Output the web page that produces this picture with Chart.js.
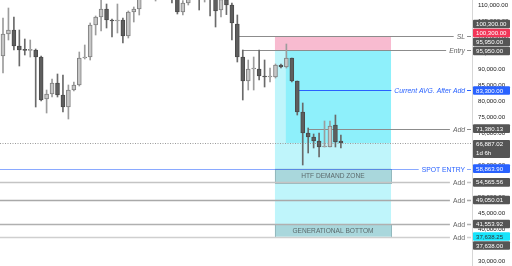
<!DOCTYPE html>
<html>
<head>
<meta charset="utf-8">
<script src="https://cdn.jsdelivr.net/npm/chart.js@4.4.1/dist/chart.umd.min.js"></script>
<style>
html,body{margin:0;padding:0;background:#fff;}
#wrap{width:512px;height:266px;position:relative;}
</style>
</head>
<body>
<div id="wrap"><canvas id="chart"></canvas></div>
<script>
// daily candles
const opens=[94062,100937,102187,97187,95937,95800,95937,93750,80625,82187,85625,81875,78125,83437,85000,93437,93750,103750,106250,108750,105312,105000,105312,100312,107812,108750,112200,114300,113000,114500,116800,115000,112000,107812,110625,112500,115000,113000,114500,112500,108437,111700,110000,104062,93750,86250,90000,90000,87812,87500,87500,91250,90625,93437,86250,76562,70000,68750,67500,65625,65625,72500,67500];
const highs=[105937,109062,106250,102187,99375,99062,96250,94062,83437,86875,88437,88125,85000,85937,95312,97500,104375,106562,111500,110312,105625,110312,105937,108125,109375,114000,115500,116000,115000,117500,119000,117000,113200,111400,113500,116000,116500,115500,117000,113000,112800,112300,110625,106875,95937,92812,93750,95937,92812,90312,91562,91562,97812,93437,86250,79375,71562,69687,70000,73750,73750,75625,69375];
const lows=[88750,99062,95937,90937,94375,93750,78125,80000,76250,81250,81250,76562,74375,83125,84687,93125,92812,100625,101875,102812,100000,101250,98125,99687,104687,106875,111800,112500,111250,113200,114200,110625,107187,106875,110000,111900,108437,110937,106562,103125,106250,107000,99062,92187,80312,83437,83437,86562,84375,85937,87187,90312,90312,85937,75625,60000,63750,65312,62500,65625,65625,65625,65312];
const closes=[100937,102187,97187,95937,95800,95937,93750,80312,82187,85625,81875,78125,83437,85000,93437,93750,103750,106250,108750,105312,105000,105312,100312,107812,108750,112200,114300,113000,114500,116800,115000,112000,107812,110625,112500,115000,113000,114500,112500,108125,111700,110000,104375,93750,86250,90000,90312,87812,87500,87812,91250,90625,93437,86250,76562,70000,68750,67500,65625,65800,72187,67187,66887.02];

// price axis
const yTickValues=[30000,35000,40000,45000,50000,55000,60000,65000,70000,75000,80000,85000,90000,95000,100000,105000,110000];
const yMin=28437.5, yMax=111562.5;

// drawn levels
const levelPrices=[100300,95950,83300,71380.13,58863.90,54565.56,49050.01,41553.92,37638.25];
const levelNames=["SL","Entry","Current AVG. After Add","Add","SPOT ENTRY","Add","Add","Add","Add"];
const lastPrice=66887.02;
const lastCountdown="1d 6h";

// zones
const zoneNames=["HTF DEMAND ZONE","GENERATIONAL BOTTOM"];
const zoneTops=[58863.90,41553.92];
const zoneBottoms=[54565.56,37638.25];

// price tags on the axis
const tagPrices=[100300,100300,95950,95950,83300,71380.13,58863.90,54565.56,49050.01,41553.92,37638.25,37638];

const fmt=v=>v.toLocaleString("en-US",{minimumFractionDigits:2,maximumFractionDigits:2});

const up=closes.map((c,i)=>c>=opens[i]);

const lineStyle=[
{from:42.8,color:"#8c8c8c",text:"#666",italic:true,w:1},
{from:44,color:"#8c8c8c",text:"#666",italic:true,w:1},
{from:54.1,color:"#2962ff",text:"#2962ff",italic:true,w:1},
{from:56,color:"#8c8c8c",text:"#666",italic:true,w:1},
{from:-1,color:"rgba(41,98,255,0.55)",text:"#2962ff",italic:false,w:1},
{from:-1,color:"#c4c4c4",text:"#666",italic:false,w:1.5},
{from:-1,color:"#a9a9a9",text:"#666",italic:false,w:1.5},
{from:-1,color:"#b0b0b0",text:"#666",italic:false,w:1.5},
{from:-1,color:"#cfcfcf",text:"#666",italic:false,w:1.5}
];
const tagStyle=[
{bg:"#555555",fg:"#fff",dy:-12},
{bg:"#f23658",fg:"#fff",dy:-3},
{bg:"#555555",fg:"#fff",dy:-8},
{bg:"#555555",fg:"#fff",dy:1},
{bg:"#2962ff",fg:"#fff",dy:0},
{bg:"#555555",fg:"#fff",dy:0},
{bg:"#2962ff",fg:"#fff",dy:0},
{bg:"#555555",fg:"#fff",dy:0},
{bg:"#555555",fg:"#fff",dy:0},
{bg:"#555555",fg:"#fff",dy:0},
{bg:"#18e4fb",fg:"#333",dy:0},
{bg:"#555555",fg:"#fff",dy:9}
];

const overlay={
id:"overlay",
beforeDatasetsDraw(chart){
const ctx=chart.ctx, x=chart.scales.x, y=chart.scales.y, a=chart.chartArea;
const bx0=x.getPixelForValue(49.9), bx1=x.getPixelForValue(71.2), bxd=x.getPixelForValue(51.9);
ctx.save();
// position tool
ctx.fillStyle="#bff5fb";
ctx.fillRect(bx0,y.getPixelForValue(levelPrices[1]),bx1-bx0,y.getPixelForValue(levelPrices[8])-y.getPixelForValue(levelPrices[1]));
ctx.fillStyle="#8ef0fb";
ctx.fillRect(bxd,y.getPixelForValue(levelPrices[1]),bx1-bxd,y.getPixelForValue(lastPrice)-y.getPixelForValue(levelPrices[1]));
ctx.fillStyle="#f8bbd0";
ctx.fillRect(bx0,y.getPixelForValue(levelPrices[0]),bx1-bx0,y.getPixelForValue(levelPrices[1])-y.getPixelForValue(levelPrices[0]));
// zones
zoneNames.forEach((n,i)=>{
let t=y.getPixelForValue(zoneTops[i]), b=y.getPixelForValue(zoneBottoms[i]);
ctx.fillStyle="#a9d7dc";
ctx.fillRect(bx0,t,bx1-bx0,b-t);
ctx.strokeStyle="#93b9be";
ctx.lineWidth=1;
ctx.strokeRect(Math.round(bx0)+0.5,Math.round(t)+0.5,Math.round(bx1-bx0),Math.round(b-t));
ctx.fillStyle="#5b6a6c";
ctx.font="6.6px 'Liberation Sans'";
ctx.textAlign="center";
ctx.textBaseline="middle";
ctx.fillText(n,(bx0+bx1)/2,(t+b)/2+0.5);
});
// levels
const textRight=465;
levelPrices.forEach((p,i)=>{
const s=lineStyle[i];
let py=Math.round(y.getPixelForValue(p))+0.5;
ctx.font=(s.italic?"italic ":"")+"6.8px 'Liberation Sans'";
let tw=ctx.measureText(levelNames[i]).width;
let x0=s.from<0?a.left:x.getPixelForValue(s.from);
ctx.strokeStyle=s.color;
ctx.lineWidth=s.w;
ctx.beginPath();
ctx.moveTo(x0,py);ctx.lineTo(textRight-tw-3,py);
ctx.moveTo(textRight+2,py);ctx.lineTo(a.right-1,py);
ctx.stroke();
ctx.fillStyle=s.text;
ctx.textAlign="right";
ctx.textBaseline="middle";
ctx.fillText(levelNames[i],textRight,py+0.5);
});
// last price
let ly=Math.round(y.getPixelForValue(lastPrice))+0.5;
ctx.strokeStyle="#9a9a9a";
ctx.lineWidth=1;
ctx.setLineDash([1,1.5]);
ctx.beginPath();ctx.moveTo(a.left,ly);ctx.lineTo(a.right,ly);ctx.stroke();
ctx.restore();
},
afterDraw(chart){
const ctx=chart.ctx, y=chart.scales.y, a=chart.chartArea;
const tx=a.right+1, tw=37, th=8.6;
ctx.save();
ctx.font="6.1px 'Liberation Sans'";
ctx.textBaseline="middle";
ctx.textAlign="left";
tagPrices.forEach((p,i)=>{
const s=tagStyle[i];
let cy=y.getPixelForValue(p)+s.dy;
ctx.fillStyle=s.bg;
ctx.beginPath();ctx.roundRect(tx,cy-th/2,tw,th,1);ctx.fill();
ctx.fillStyle=s.fg;
ctx.fillText(fmt(p),tx+3,cy+0.4);
});
// last price tag with countdown
let ly=y.getPixelForValue(lastPrice);
ctx.fillStyle="#555555";
ctx.beginPath();ctx.roundRect(tx,ly-3,tw,18,1);ctx.fill();
ctx.fillStyle="#fff";
ctx.fillText(fmt(lastPrice),tx+3,ly+1.5);
ctx.fillText(lastCountdown,tx+3,ly+10);
ctx.restore();
}
};

const bodyData=opens.map((o,i)=>({x:i,y:[o,closes[i]]}));
const wickData=lows.map((l,i)=>({x:i,y:[l,highs[i]]}));

new Chart(document.getElementById("chart"),{
type:"bar",
data:{
datasets:[
{data:bodyData,order:0,grouped:false,barThickness:4,minBarLength:1,borderWidth:1,borderSkipped:false,
backgroundColor:up.map(u=>u?"#c6c6c6":"#5e5e5e"),
borderColor:up.map(u=>u?"#7f7f7f":"#4b4b4b")},
{data:wickData,order:1,grouped:false,barThickness:1,borderWidth:0,
backgroundColor:up.map(u=>u?"#9c9c9c":"#6a6a6a")}
]
},
options:{
responsive:true,
maintainAspectRatio:false,
animation:false,
layout:{padding:0},
plugins:{legend:{display:false},tooltip:{enabled:false}},
scales:{
x:{type:"linear",display:false,min:-0.55,max:86.06,offset:false},
y:{
position:"right",min:yMin,max:yMax,
grid:{display:false,drawTicks:false},
border:{display:true,color:"#d6d6d6"},
afterBuildTicks:s=>{s.ticks=yTickValues.map(v=>({value:v}));},
afterFit:s=>{s.width=40;s.paddingTop=0;s.paddingBottom=0;},
ticks:{autoSkip:false,padding:6,color:"#222",font:{family:"'Liberation Sans'",size:6.1},
callback:v=>fmt(v)}
}
}
},
plugins:[overlay]
});
</script>
</body>
</html>
